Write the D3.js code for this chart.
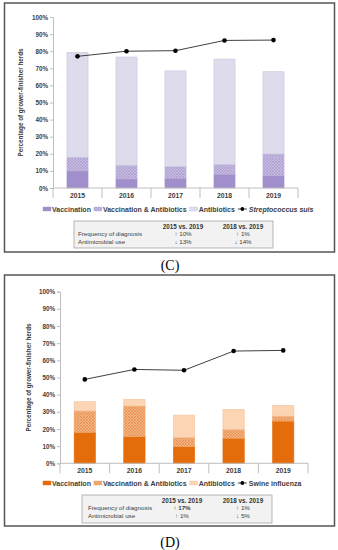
<!DOCTYPE html>
<html>
<head>
<meta charset="utf-8">
<script src="https://cdn.jsdelivr.net/npm/d3@7"></script>
<style>
  body { margin: 0; background: #fff; }
  svg { font-family: "Liberation Sans", Arial, sans-serif; }
</style>
</head>
<body>
<div id="chart"></div>
<script>
// categories and values
const years = ["2015", "2016", "2017", "2018", "2019"];
const yTicks = [0, 10, 20, 30, 40, 50, 60, 70, 80, 90, 100];
const stackKeys = ["Vaccination", "Vaccination & Antibiotics", "Antibiotics"];

// (C) Streptococcus suis
const strepVaccination = [10, 5.3, 5.7, 8, 7.2];
const strepVaccAntibiotics = [8, 8, 6.8, 5.7, 12.7];
const strepAntibiotics = [61.3, 63.3, 56, 61.7, 48.1];
const strepDiagnosis = [77, 80, 80.3, 86.3, 86.5];
const strepTable = [
    ["Frequency of diagnosis", "\u2191 10%", "\u2191 1%"],
    ["Antimicrobial use", "\u2193 13%", "\u2193 14%"]
];

// (D) Swine influenza
const fluVaccination = [18, 15.5, 9.7, 14.6, 24.6];
const fluVaccAntibiotics = [12.5, 17.9, 5.4, 5.2, 2.9];
const fluAntibiotics = [5.4, 3.9, 13, 11.6, 6.3];
const fluDiagnosis = [48.9, 54.7, 54.2, 65.4, 65.8];
const fluTable = [
    ["Frequency of diagnosis", "\u2191 17%", "\u2191 1%"],
    ["Antimicrobial use", "\u2191 1%", "\u2193 5%"]
];

const tableHeader = ["", "2015 vs. 2019", "2018 vs. 2019"];

const svg = d3.select("#chart")
    .append("svg")
    .attr("width", 338)
    .attr("height", 550);

const defs = svg.append("defs");

function hatch(id, base, line) {
    const p = defs.append("pattern")
        .attr("id", id)
        .attr("patternUnits", "userSpaceOnUse")
        .attr("width", 3)
        .attr("height", 3);
    p.append("rect").attr("width", 3).attr("height", 3).attr("fill", base);
    p.append("path")
        .attr("d", "M0,3 L3,0 M0,0 L3,3")
        .attr("stroke", line)
        .attr("stroke-width", 0.6);
}
hatch("hatchPurple", "#c6bce0", "#a797cf");
hatch("hatchOrange", "#f3b483", "#e88a45");

function drawPanel(cfg) {
    const g = svg.append("g");

    // outer frame
    g.append("rect")
        .attr("x", 4.5).attr("y", cfg.frameTop)
        .attr("width", 330).attr("height", cfg.frameBottom - cfg.frameTop)
        .attr("fill", "none")
        .attr("stroke", "#555")
        .attr("stroke-width", 1.5);

    const x = d3.scaleBand().domain(years).range([cfg.left, cfg.right]).paddingInner(0).paddingOuter(0);
    const y = d3.scaleLinear().domain([0, 100]).range([cfg.bottom, cfg.top]);

    const rows = years.map((yr, i) => ({
        year: yr,
        "Vaccination": cfg.vacc[i],
        "Vaccination & Antibiotics": cfg.vaccAb[i],
        "Antibiotics": cfg.ab[i]
    }));
    const stacked = d3.stack().keys(stackKeys)(rows);

    const barW = x.bandwidth() * 0.43;
    g.selectAll(".layer")
        .data(stacked)
        .enter()
        .append("g")
        .attr("fill", (d, i) => cfg.colors[i])
        .attr("stroke", (d, i) => cfg.strokes[i])
        .attr("stroke-width", 0.6)
        .selectAll("rect")
        .data(d => d)
        .enter()
        .append("rect")
        .attr("x", d => x(d.data.year) + (x.bandwidth() - barW) / 2)
        .attr("y", d => y(d[1]))
        .attr("width", barW)
        .attr("height", d => y(d[0]) - y(d[1]));

    // y axis
    const yAxis = d3.axisLeft(y).tickValues(yTicks).tickSize(3).tickFormat(d => d + "%");
    const ya = g.append("g").attr("transform", `translate(${cfg.left},0)`).call(yAxis);
    ya.select(".domain").attr("stroke", "#bfbfbf");
    ya.selectAll(".tick line").attr("stroke", "#bfbfbf");
    ya.selectAll("text")
        .attr("font-size", 6.3)
        .attr("font-weight", "bold")
        .attr("fill", "#404040")
        .attr("x", -5);

    // x axis with category separators
    const xa = g.append("g").attr("transform", `translate(0,${cfg.bottom})`);
    xa.append("line")
        .attr("x1", cfg.left).attr("x2", cfg.right)
        .attr("stroke", "#bfbfbf");
    xa.selectAll(".sep")
        .data(years.concat(["end"]))
        .enter()
        .append("line")
        .attr("x1", (d, i) => cfg.left + i * x.bandwidth())
        .attr("x2", (d, i) => cfg.left + i * x.bandwidth())
        .attr("y1", 0).attr("y2", 10)
        .attr("stroke", "#bfbfbf");
    xa.selectAll(".yr")
        .data(years)
        .enter()
        .append("text")
        .attr("x", d => x(d) + x.bandwidth() / 2)
        .attr("y", 10)
        .attr("text-anchor", "middle")
        .attr("font-size", 6.8)
        .attr("font-weight", "bold")
        .attr("fill", "#404040")
        .text(d => d);

    // y title
    g.append("text")
        .attr("transform", `translate(${cfg.titleX},${(cfg.top + cfg.bottom) / 2}) rotate(-90)`)
        .attr("text-anchor", "middle")
        .attr("font-size", 6.3)
        .attr("font-weight", "bold")
        .attr("fill", "#404040")
        .text("Percentage of grower-finisher herds");

    // diagnosis line
    const line = d3.line()
        .x((d, i) => x(years[i]) + x.bandwidth() / 2)
        .y(d => y(d));
    g.append("path")
        .datum(cfg.diag)
        .attr("d", line)
        .attr("fill", "none")
        .attr("stroke", "#404040")
        .attr("stroke-width", 1);
    g.selectAll(".dot")
        .data(cfg.diag)
        .enter()
        .append("circle")
        .attr("cx", (d, i) => x(years[i]) + x.bandwidth() / 2)
        .attr("cy", d => y(d))
        .attr("r", 2.3)
        .attr("fill", "#000");

    // legend
    const lg = g.append("g").attr("transform", `translate(0,${cfg.legendY})`);
    let lx = 43;
    stackKeys.forEach((k, i) => {
        lg.append("rect")
            .attr("x", lx).attr("y", -3)
            .attr("width", 8).attr("height", 4)
            .attr("fill", cfg.colors[i])
            .attr("stroke", cfg.strokes[i])
            .attr("stroke-width", 0.4);
        const t = lg.append("text")
            .attr("x", lx + 9).attr("y", 2.3)
            .attr("font-size", 7)
            .attr("font-weight", "bold")
            .attr("fill", "#404040")
            .text(k);
        lx += 9 + t.node().getComputedTextLength() + 3;
    });
    lg.append("line")
        .attr("x1", lx).attr("x2", lx + 9)
        .attr("y1", -1).attr("y2", -1)
        .attr("stroke", "#404040");
    lg.append("circle").attr("cx", lx + 4.5).attr("cy", -1).attr("r", 1.9).attr("fill", "#000");
    lg.append("text")
        .attr("x", lx + 11).attr("y", 2.3)
        .attr("font-size", 7)
        .attr("font-weight", "bold")
        .attr("font-style", cfg.seriesItalic ? "italic" : "normal")
        .attr("fill", "#404040")
        .text(cfg.seriesName);

    // summary table
    const tb = g.append("g");
    tb.append("rect")
        .attr("x", cfg.table.x0).attr("y", cfg.table.y0)
        .attr("width", cfg.table.x1 - cfg.table.x0)
        .attr("height", cfg.table.y1 - cfg.table.y0)
        .attr("fill", "#f2f2f2")
        .attr("stroke", "#a6a6a6")
        .attr("stroke-width", 0.8);
    const colX = [cfg.table.labelX, cfg.table.c1, cfg.table.c2];
    tableHeader.forEach((h, j) => {
        tb.append("text")
            .attr("x", colX[j]).attr("y", cfg.table.rowY[0])
            .attr("text-anchor", j === 0 ? "start" : "middle")
            .attr("font-size", 6.3)
            .attr("font-weight", "bold")
            .attr("fill", "#333")
            .text(h);
    });
    cfg.tableRows.forEach((r, i) => {
        r.forEach((c, j) => {
            tb.append("text")
                .attr("x", colX[j]).attr("y", cfg.table.rowY[i + 1])
                .attr("text-anchor", j === 0 ? "start" : "middle")
                .attr("font-size", 6.2)
                .attr("font-weight", cfg.boldCells.includes(i + "-" + j) ? "bold" : "normal")
                .attr("fill", "#404040")
                .text(c);
        });
    });

    // panel letter
    svg.append("text")
        .attr("x", 170).attr("y", cfg.letterY)
        .attr("text-anchor", "middle")
        .attr("font-family", "'Liberation Serif', 'Times New Roman', serif")
        .attr("font-size", 14)
        .attr("fill", "#000")
        .text(cfg.letter);
}

drawPanel({
    frameTop: 3, frameBottom: 252,
    left: 53, right: 298, top: 17, bottom: 188,
    titleX: 23,
    vacc: strepVaccination, vaccAb: strepVaccAntibiotics, ab: strepAntibiotics,
    diag: strepDiagnosis,
    colors: ["#a08fcb", "url(#hatchPurple)", "#dddbec"],
    strokes: ["#a08fcb", "#b9acd9", "#c9c6dc"],
    legendY: 210,
    seriesName: "Streptococcus suis", seriesItalic: true,
    table: { x0: 74, x1: 273, y0: 221, y1: 248, labelX: 78, c1: 183, c2: 243, rowY: [228.5, 236, 243.5] },
    tableRows: strepTable,
    boldCells: [],
    letter: "(C)", letterY: 270
});

drawPanel({
    frameTop: 275, frameBottom: 526,
    left: 60, right: 308, top: 291.7, bottom: 463.3,
    titleX: 31,
    vacc: fluVaccination, vaccAb: fluVaccAntibiotics, ab: fluAntibiotics,
    diag: fluDiagnosis,
    colors: ["#e46c0a", "url(#hatchOrange)", "#fcd5b5"],
    strokes: ["#e46c0a", "#f0a468", "#f6c49c"],
    legendY: 484,
    seriesName: "Swine influenza", seriesItalic: false,
    table: { x0: 82, x1: 272, y0: 495, y1: 523, labelX: 88, c1: 182, c2: 243, rowY: [502.5, 510, 517.5] },
    tableRows: fluTable,
    boldCells: ["0-1"],
    letter: "(D)", letterY: 547
});
</script>
</body>
</html>
